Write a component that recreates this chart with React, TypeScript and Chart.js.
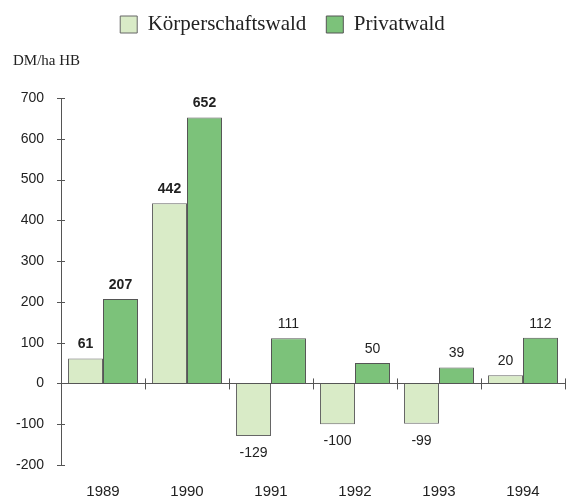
import React, { useEffect, useRef } from "react";
import { Chart, registerables } from "chart.js";

Chart.register(...registerables);

const years = ["1989", "1990", "1991", "1992", "1993", "1994"];
const koerperschaftswald = [61, 442, -129, -100, -99, 20];
const privatwald = [207, 652, 111, 50, 39, 112];
const seriesNames = ["Körperschaftswald", "Privatwald"];
const unitLabel = "DM/ha HB";
const yMin = -200;
const yMax = 700;
const yStep = 100;

const SANS = '"Liberation Sans", Arial, sans-serif';
const SERIF = '"Liberation Serif", "Times New Roman", serif';

const decorPlugin = {
  id: "decor",
  beforeInit(chart: any) {
    const legend = chart.legend;
    if (legend) {
      const origFit = legend.fit;
      legend.fit = function () {
        origFit.call(this);
        this.height += 53;
      };
    }
  },
  afterDatasetsDraw(chart: any) {
    const { ctx, chartArea, scales } = chart;
    const x = scales.x;
    const y = scales.y;
    ctx.save();
    ctx.strokeStyle = "#555";
    ctx.lineWidth = 1;
    // crossing ticks on y axis
    y.ticks.forEach((t: any) => {
      const py = Math.round(y.getPixelForValue(t.value)) + 0.5;
      ctx.beginPath();
      ctx.moveTo(chartArea.left - 4, py);
      ctx.lineTo(chartArea.left + 4, py);
      ctx.stroke();
    });
    // category boundary ticks on zero line
    const y0 = y.getPixelForValue(0);
    const catW = (x.right - x.left) / years.length;
    for (let i = 0; i < years.length; i++) {
      const px = Math.round(x.getPixelForValue(i) + catW / 2) + 0.5;
      ctx.beginPath();
      ctx.moveTo(px, y0 - 5);
      ctx.lineTo(px, y0 + 6);
      ctx.stroke();
    }
    // value labels
    ctx.fillStyle = "#222";
    ctx.textAlign = "center";
    chart.data.datasets.forEach((ds: any, di: number) => {
      const meta = chart.getDatasetMeta(di);
      meta.data.forEach((bar: any, i: number) => {
        const v = ds.data[i];
        ctx.font = `${i < 2 ? "bold " : ""}14px ${SANS}`;
        if (v >= 0) {
          ctx.textBaseline = "bottom";
          ctx.fillText(String(v), bar.x, bar.y - 7);
        } else {
          ctx.textBaseline = "top";
          ctx.fillText(String(v), bar.x, bar.y + 10);
        }
      });
    });
    // unit label
    ctx.font = `15px ${SERIF}`;
    ctx.textAlign = "left";
    ctx.textBaseline = "middle";
    ctx.fillText(unitLabel, chartArea.left - 48, chartArea.top - 37);
    ctx.restore();
  },
};

export default function App() {
  const canvasRef = useRef<HTMLCanvasElement | null>(null);

  useEffect(() => {
    document.body.style.margin = "0";
    const canvas = canvasRef.current;
    if (!canvas) return;
    const chart = new Chart(canvas, {
      type: "bar",
      data: {
        labels: years,
        datasets: [
          {
            label: seriesNames[0],
            data: koerperschaftswald,
            backgroundColor: "#d9ebc7",
            borderColor: "#666",
            borderWidth: 1,
            categoryPercentage: 0.833,
            barPercentage: 1.0,
          },
          {
            label: seriesNames[1],
            data: privatwald,
            backgroundColor: "#7cc27a",
            borderColor: "#555",
            borderWidth: 1,
            categoryPercentage: 0.833,
            barPercentage: 1.0,
          },
        ],
      },
      options: {
        responsive: false,
        animation: false,
        devicePixelRatio: 1,
        layout: { padding: { left: 0, right: 6, top: -6, bottom: 0 } },
        plugins: {
          legend: {
            display: true,
            position: "top",
            labels: {
              boxWidth: 17,
              boxHeight: 17,
              padding: 20,
              color: "#222",
              font: { family: SERIF, size: 21 },
            },
          },
          tooltip: { enabled: false },
        },
        scales: {
          x: {
            type: "category",
            offset: true,
            grid: { display: false, drawTicks: false },
            border: { display: false },
            ticks: {
              color: "#222",
              font: { family: SANS, size: 15 },
              padding: 18,
              maxRotation: 0,
            },
            afterFit(scale: any) {
              scale.height = 33;
            },
          },
          y: {
            min: yMin,
            max: yMax,
            ticks: {
              stepSize: yStep,
              color: "#222",
              font: { family: SANS, size: 14 },
              padding: 17,
            },
            grid: {
              drawTicks: false,
              color: (c: any) => (c.tick && c.tick.value === 0 ? "#555" : "rgba(0,0,0,0)"),
            },
            border: { display: true, color: "#555", width: 1 },
            afterFit(scale: any) {
              scale.width = 61;
            },
          },
        },
      },
      plugins: [decorPlugin],
    });
    return () => chart.destroy();
  }, []);

  return <canvas ref={canvasRef} width={571} height={498} style={{ display: "block" }} />;
}
